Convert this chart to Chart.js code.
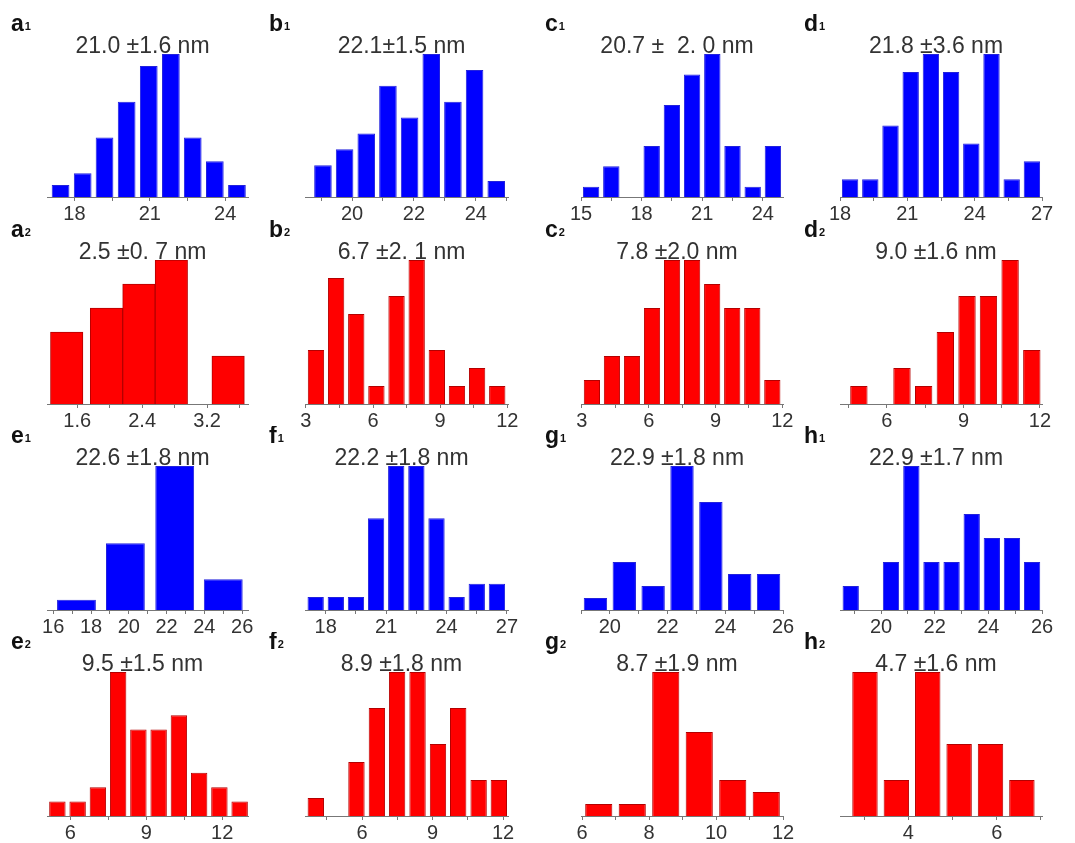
<!DOCTYPE html>
<html>
<head>
<meta charset="utf-8">
<script src="https://cdn.jsdelivr.net/npm/chart.js@4.4.1/dist/chart.umd.min.js"></script>
<style>
  body { margin: 0; background: #fff; width: 1075px; height: 843px; position: relative; overflow: hidden; }
  canvas { position: absolute; }
</style>
</head>
<body>
<script>
// Histogram data: bin centres (nm), counts, labelled ticks
const a1Bins = [17.45, 18.33, 19.20, 20.08, 20.96, 21.84, 22.71, 23.59, 24.47]
const a1Counts = [1, 2, 5, 8, 11, 12, 5, 3, 1]
const a1Ticks = [18, 21, 24]

const b1Bins = [19.06, 19.76, 20.46, 21.16, 21.86, 22.56, 23.26, 23.96, 24.66]
const b1Counts = [2, 3, 4, 7, 5, 9, 6, 8, 1]
const b1Ticks = [20, 22, 24]

const c1Bins = [15.5, 16.5, 17.5, 18.5, 19.5, 20.5, 21.5, 22.5, 23.5, 24.5]
const c1Counts = [1, 3, 0, 5, 9, 12, 14, 5, 1, 5]
const c1Ticks = [15, 18, 21, 24]

const d1Bins = [18.45, 19.35, 20.25, 21.15, 22.05, 22.95, 23.85, 24.75, 25.65, 26.55]
const d1Counts = [1, 1, 4, 7, 8, 7, 3, 8, 1, 2]
const d1Ticks = [18, 21, 24, 27]

const a2Bins = [1.47, 1.96, 2.36, 2.76, 3.46]
const a2Counts = [3, 4, 5, 6, 2]
const a2Ticks = [1.6, 2.4, 3.2]

const b2Bins = [3.45, 4.35, 5.25, 6.15, 7.05, 7.95, 8.85, 9.75, 10.65, 11.55]
const b2Counts = [3, 7, 5, 1, 6, 8, 3, 1, 2, 1]
const b2Ticks = [3, 6, 9, 12]

const c2Bins = [3.45, 4.35, 5.25, 6.15, 7.05, 7.95, 8.85, 9.75, 10.65, 11.55]
const c2Counts = [1, 2, 2, 4, 6, 6, 5, 4, 4, 1]
const c2Ticks = [3, 6, 9, 12]

const d2Bins = [4.90, 5.75, 6.59, 7.44, 8.29, 9.14, 9.98, 10.83, 11.68]
const d2Counts = [1, 0, 2, 1, 4, 6, 6, 8, 3]
const d2Ticks = [6, 9, 12]

const e1Bins = [17.23, 19.82, 22.43, 25.0]
const e1Counts = [2, 13, 28, 6]
const e1Ticks = [16, 18, 20, 22, 24, 26]

const f1Bins = [17.5, 18.5, 19.5, 20.5, 21.5, 22.5, 23.5, 24.5, 25.5, 26.5]
const f1Counts = [1, 1, 1, 7, 11, 11, 7, 1, 2, 2]
const f1Ticks = [18, 21, 24, 27]

const g1Bins = [19.5, 20.5, 21.5, 22.5, 23.5, 24.5, 25.5]
const g1Counts = [1, 4, 2, 12, 9, 3, 3]
const g1Ticks = [20, 22, 24, 26]

const h1Bins = [18.87, 19.62, 20.37, 21.13, 21.88, 22.63, 23.38, 24.13, 24.88, 25.63]
const h1Counts = [1, 0, 2, 6, 2, 2, 4, 3, 3, 2]
const h1Ticks = [20, 22, 24, 26]

const e2Bins = [5.49, 6.29, 7.09, 7.89, 8.69, 9.49, 10.29, 11.09, 11.89, 12.69]
const e2Counts = [1, 1, 2, 10, 6, 6, 7, 3, 2, 1]
const e2Ticks = [6, 9, 12]

const f2Bins = [4.03, 4.90, 5.76, 6.63, 7.49, 8.36, 9.23, 10.09, 10.96, 11.82]
const f2Counts = [1, 0, 3, 6, 8, 8, 4, 6, 2, 2]
const f2Ticks = [6, 9, 12]

const g2Bins = [6.5, 7.5, 8.5, 9.5, 10.5, 11.5]
const g2Counts = [1, 1, 12, 7, 3, 2]
const g2Ticks = [6, 8, 10, 12]

const h2Bins = [3.02, 3.73, 4.44, 5.15, 5.86, 6.57]
const h2Counts = [4, 1, 4, 2, 2, 1]
const h2Ticks = [4, 6]

const BLUE = "#0000ff"
const RED = "#ff0000"
const FONT = '"Liberation Sans", Arial, sans-serif'

// Plot boxes (page pixels) per column / row
const colX = [[47, 247.5], [305, 507.5], [581, 783], [840, 1042]]
const rowY = [[54.3, 197.7], [260, 404], [465.7, 609.3], [671.7, 815.3]]

// Panel settings
const panels = [
  { letter: "a", sub: "1", title: "21.0 \u00b11.6 nm", bins: a1Bins, counts: a1Counts, ticks: a1Ticks, step: 1.5, min: 16.91, max: 24.91, color: BLUE, col: 0, row: 0 },
  { letter: "b", sub: "1", title: "22.1\u00b11.5 nm", bins: b1Bins, counts: b1Counts, ticks: b1Ticks, step: 1, min: 18.48, max: 25.04, color: BLUE, col: 1, row: 0 },
  { letter: "c", sub: "1", title: "20.7 \u00b1  2. 0 nm", bins: c1Bins, counts: c1Counts, ticks: c1Ticks, step: 1.5, min: 15, max: 25, color: BLUE, col: 2, row: 0 },
  { letter: "d", sub: "1", title: "21.8 \u00b13.6 nm", bins: d1Bins, counts: d1Counts, ticks: d1Ticks, step: 1.5, min: 18, max: 27, color: BLUE, col: 3, row: 0 },
  { letter: "a", sub: "2", title: "2.5 \u00b10. 7 nm", bins: a2Bins, counts: a2Counts, ticks: a2Ticks, step: 0.4, min: 1.227, max: 3.705, color: RED, col: 0, row: 1, fill: 1 },
  { letter: "b", sub: "2", title: "6.7 \u00b12. 1 nm", bins: b2Bins, counts: b2Counts, ticks: b2Ticks, step: 1.5, min: 2.96, max: 12.03, color: RED, col: 1, row: 1 },
  { letter: "c", sub: "2", title: "7.8 \u00b12.0 nm", bins: c2Bins, counts: c2Counts, ticks: c2Ticks, step: 1.5, min: 2.96, max: 12.03, color: RED, col: 2, row: 1 },
  { letter: "d", sub: "2", title: "9.0 \u00b11.6 nm", bins: d2Bins, counts: d2Counts, ticks: d2Ticks, step: 1.5, min: 4.16, max: 12.08, color: RED, col: 3, row: 1 },
  { letter: "e", sub: "1", title: "22.6 \u00b11.8 nm", bins: e1Bins, counts: e1Counts, ticks: e1Ticks, step: 1, min: 15.67, max: 26.31, color: BLUE, col: 0, row: 2, fill: 0.8 },
  { letter: "f", sub: "1", title: "22.2 \u00b11.8 nm", bins: f1Bins, counts: f1Counts, ticks: f1Ticks, step: 1.5, min: 16.97, max: 27.05, color: BLUE, col: 1, row: 2 },
  { letter: "g", sub: "1", title: "22.9 \u00b11.8 nm", bins: g1Bins, counts: g1Counts, ticks: g1Ticks, step: 1, min: 19, max: 26, color: BLUE, col: 2, row: 2 },
  { letter: "h", sub: "1", title: "22.9 \u00b11.7 nm", bins: h1Bins, counts: h1Counts, ticks: h1Ticks, step: 1, min: 18.47, max: 26, color: BLUE, col: 3, row: 2 },
  { letter: "e", sub: "2", title: "9.5 \u00b11.5 nm", bins: e2Bins, counts: e2Counts, ticks: e2Ticks, step: 1.5, min: 5.08, max: 13.02, color: RED, col: 0, row: 3 },
  { letter: "f", sub: "2", title: "8.9 \u00b11.8 nm", bins: f2Bins, counts: f2Counts, ticks: f2Ticks, step: 1.5, min: 3.57, max: 12.21, color: RED, col: 1, row: 3 },
  { letter: "g", sub: "2", title: "8.7 \u00b11.9 nm", bins: g2Bins, counts: g2Counts, ticks: g2Ticks, step: 1, min: 5.97, max: 12, color: RED, col: 2, row: 3 },
  { letter: "h", sub: "2", title: "4.7 \u00b11.6 nm", bins: h2Bins, counts: h2Counts, ticks: h2Ticks, step: 1, min: 2.455, max: 7.025, color: RED, col: 3, row: 3 },
]

const PAD_L = 40, PAD_R = 20, PAD_T = 40, AXIS_H = 30

// Draws the mean +/- sd title and the panel letter with its subscript
const panelText = {
  id: "panelText",
  afterDraw(chart, args, opts) {
    const { ctx, chartArea } = chart
    ctx.save()
    ctx.fillStyle = "#333"
    ctx.font = "23px " + FONT
    ctx.textAlign = "center"
    ctx.textBaseline = "alphabetic"
    ctx.fillText(opts.title, (chartArea.left + chartArea.right) / 2 - 5, chartArea.top - 1.5)

    ctx.fillStyle = "#111"
    ctx.textAlign = "left"
    ctx.font = "bold 23px " + FONT
    const lx = chartArea.left - 36
    const ly = chartArea.top - 23
    ctx.fillText(opts.letter, lx, ly)
    const w = ctx.measureText(opts.letter).width
    ctx.font = "bold 11px " + FONT
    ctx.fillText(opts.sub, lx + w + 1, ly - 1)
    ctx.restore()
  },
}

function makePanel(p) {
  const [L, R] = colX[p.col]
  const [T, B] = rowY[p.row]
  const cv = document.createElement("canvas")
  const w = Math.round(R - L) + PAD_L + PAD_R
  const h = PAD_T + Math.round(B - T) + AXIS_H
  cv.width = w
  cv.height = h
  cv.style.left = Math.round(L) - PAD_L + "px"
  cv.style.top = Math.round(T) - PAD_T + "px"
  document.body.appendChild(cv)

  // bar width: Chart.js uses the smaller of bin spacing and tick spacing
  let gap = Infinity
  for (let i = 1; i < p.bins.length; i++) gap = Math.min(gap, p.bins[i] - p.bins[i - 1])
  const sample = Math.min(gap, p.step)
  const isRed = p.color === RED

  new Chart(cv, {
    type: "bar",
    data: {
      datasets: [
        {
          data: p.bins.map((b, i) => ({ x: b, y: p.counts[i] })),
          backgroundColor: p.color,
          borderColor: isRed ? "#b40000" : "#2222dd",
          borderWidth: (c) => (c.raw && c.raw.y > 0 ? 1 : 0),
          borderSkipped: "bottom",
          categoryPercentage: gap / sample,
          barPercentage: p.fill || 0.81,
        },
      ],
    },
    options: {
      responsive: false,
      animation: false,
      events: [],
      layout: { padding: { left: PAD_L, right: PAD_R, top: PAD_T, bottom: 0 } },
      plugins: {
        legend: { display: false },
        tooltip: { enabled: false },
        panelText: { title: p.title, letter: p.letter, sub: p.sub },
      },
      scales: {
        x: {
          type: "linear",
          min: p.min,
          max: p.max,
          offset: false,
          grid: { display: true, offset: false, drawOnChartArea: false, drawTicks: true, tickLength: 4, color: "#777" },
          border: { display: true, color: "#777", width: 1 },
          ticks: {
            stepSize: p.step,
            includeBounds: false,
            autoSkip: false,
            maxRotation: 0,
            minRotation: 0,
            padding: 1,
            color: "#333",
            font: { family: FONT, size: 20 },
            callback: (v) => {
              const t = p.ticks.find((k) => Math.abs(k - v) < 1e-6)
              return t === undefined ? "" : String(t)
            },
          },
        },
        y: { display: false, min: 0, max: Math.max(...p.counts) },
      },
    },
    plugins: [panelText],
  })
}

panels.forEach(makePanel)
</script>
</body>
</html>
